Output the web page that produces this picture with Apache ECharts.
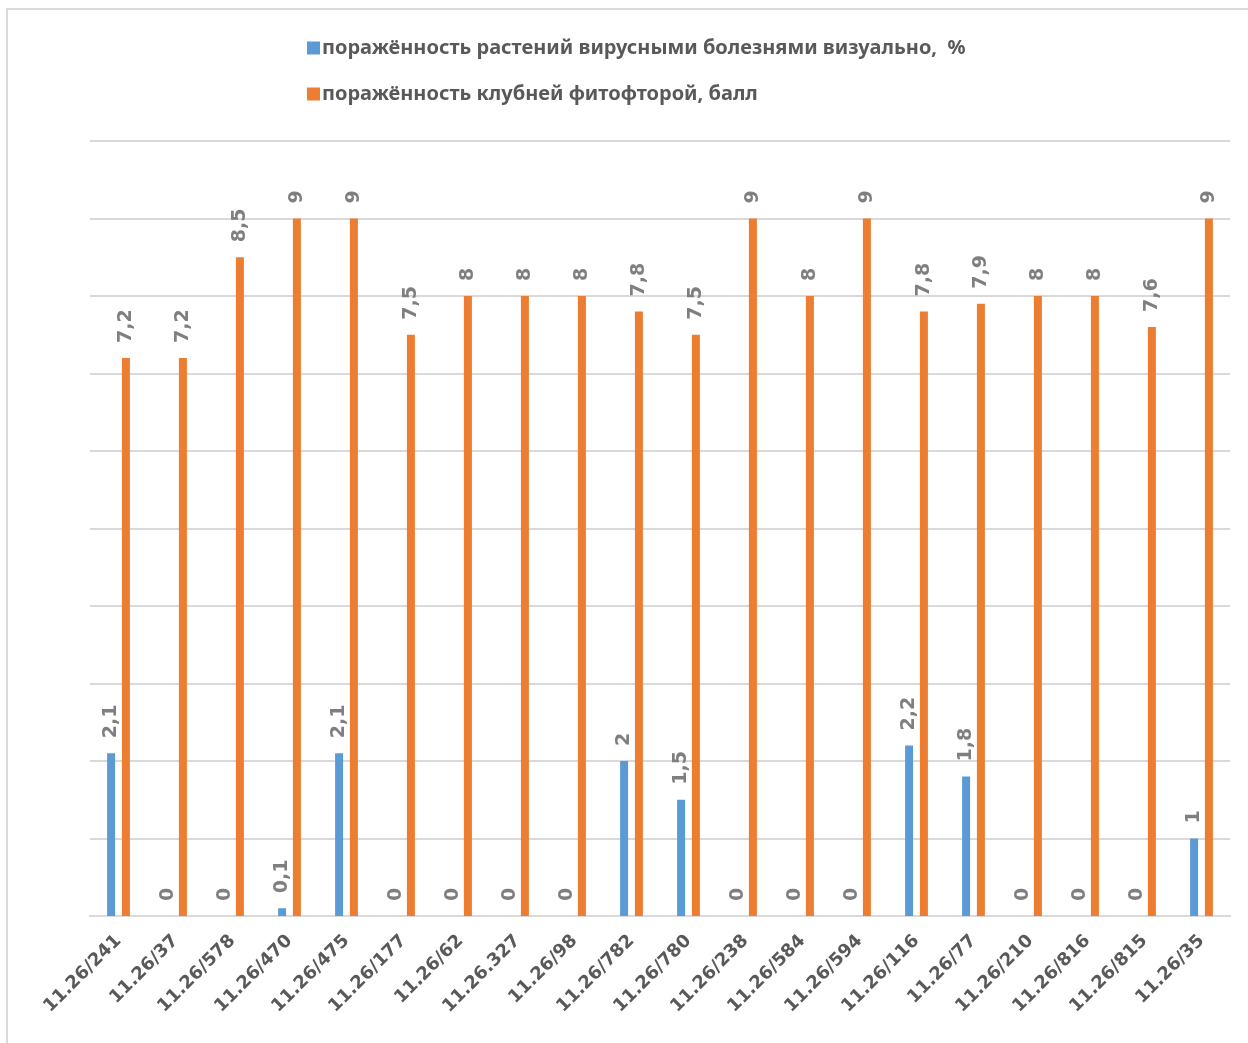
<!DOCTYPE html>
<html>
<head>
<meta charset="utf-8">
<script src="https://cdn.jsdelivr.net/npm/echarts@6/dist/echarts.min.js"></script>
<style>
  html, body { margin: 0; padding: 0; background: #fff; }
  #chart { width: 1248px; height: 1043px; }
</style>
</head>
<body>
<div id="chart"></div>
<script>
const categories = ['11.26/241', '11.26/37', '11.26/578', '11.26/470', '11.26/475', '11.26/177', '11.26/62', '11.26.327', '11.26/98', '11.26/782',
  '11.26/780', '11.26/238', '11.26/584', '11.26/594', '11.26/116', '11.26/77', '11.26/210', '11.26/816', '11.26/815', '11.26/35']
const virusValues = [2.1, 0, 0, 0.1, 2.1, 0, 0, 0, 0, 2, 1.5, 0, 0, 0, 2.2, 1.8, 0, 0, 0, 1]
const blightValues = [7.2, 7.2, 8.5, 9, 9, 7.5, 8, 8, 8, 7.8, 7.5, 9, 8, 9, 7.8, 7.9, 8, 8, 7.6, 9]
const seriesNames = ['поражённость растений вирусными болезнями визуально,  %', 'поражённость клубней фитофторой, балл']

const chart = echarts.init(document.getElementById('chart'))

// подписи значений: повернуты, десятичная запятая
const labelStyle = {
  show: true,
  position: 'top',
  rotate: 90,
  align: 'left',
  verticalAlign: 'middle',
  distance: 15,
  color: '#7f7f7f',
  fontFamily: 'DejaVu Sans',
  fontWeight: 'bold',
  fontSize: 19,
  formatter(p) {
    return String(p.value).replace('.', ',')
  }
}

chart.setOption({
  backgroundColor: '#fff',
  animation: false,
  graphic: [{
    type: 'rect',
    shape: { x: 7, y: 9, width: 1260, height: 1060 },
    style: { fill: 'none', stroke: '#d9d9d9', lineWidth: 2 },
    silent: true
  }],
  legend: {
    orient: 'vertical',
    left: 302,
    top: 33,
    itemWidth: 13,
    itemHeight: 13,
    itemGap: 26,
    icon: 'rect',
    textStyle: {
      color: '#595959',
      fontFamily: 'Noto Sans',
      fontWeight: 'bold',
      fontSize: 20,
      padding: [0, 0, 0, -3]
    },
    data: seriesNames
  },
  grid: {
    left: 90,
    right: 18,
    top: 141,
    bottom: 127,
    containLabel: false
  },
  xAxis: {
    type: 'category',
    data: categories,
    axisLine: { lineStyle: { color: '#d9d9d9', width: 2 } },
    axisTick: { show: false },
    axisLabel: {
      interval: 0,
      rotate: 45,
      margin: 22,
      color: '#595959',
      fontFamily: 'DejaVu Sans',
      fontWeight: 'bold',
      fontSize: 18
    }
  },
  yAxis: {
    type: 'value',
    min: 0,
    max: 10,
    interval: 1,
    axisLine: { show: false },
    axisTick: { show: false },
    axisLabel: { show: false },
    splitLine: { lineStyle: { color: '#d9d9d9', width: 2 } }
  },
  series: [
    {
      name: seriesNames[0],
      type: 'bar',
      barWidth: 8,
      barGap: '85%',
      itemStyle: { color: '#5b9bd5' },
      label: labelStyle,
      data: virusValues
    },
    {
      name: seriesNames[1],
      type: 'bar',
      barWidth: 8,
      itemStyle: { color: '#ed7d31' },
      label: labelStyle,
      data: blightValues
    }
  ]
})
</script>
</body>
</html>
